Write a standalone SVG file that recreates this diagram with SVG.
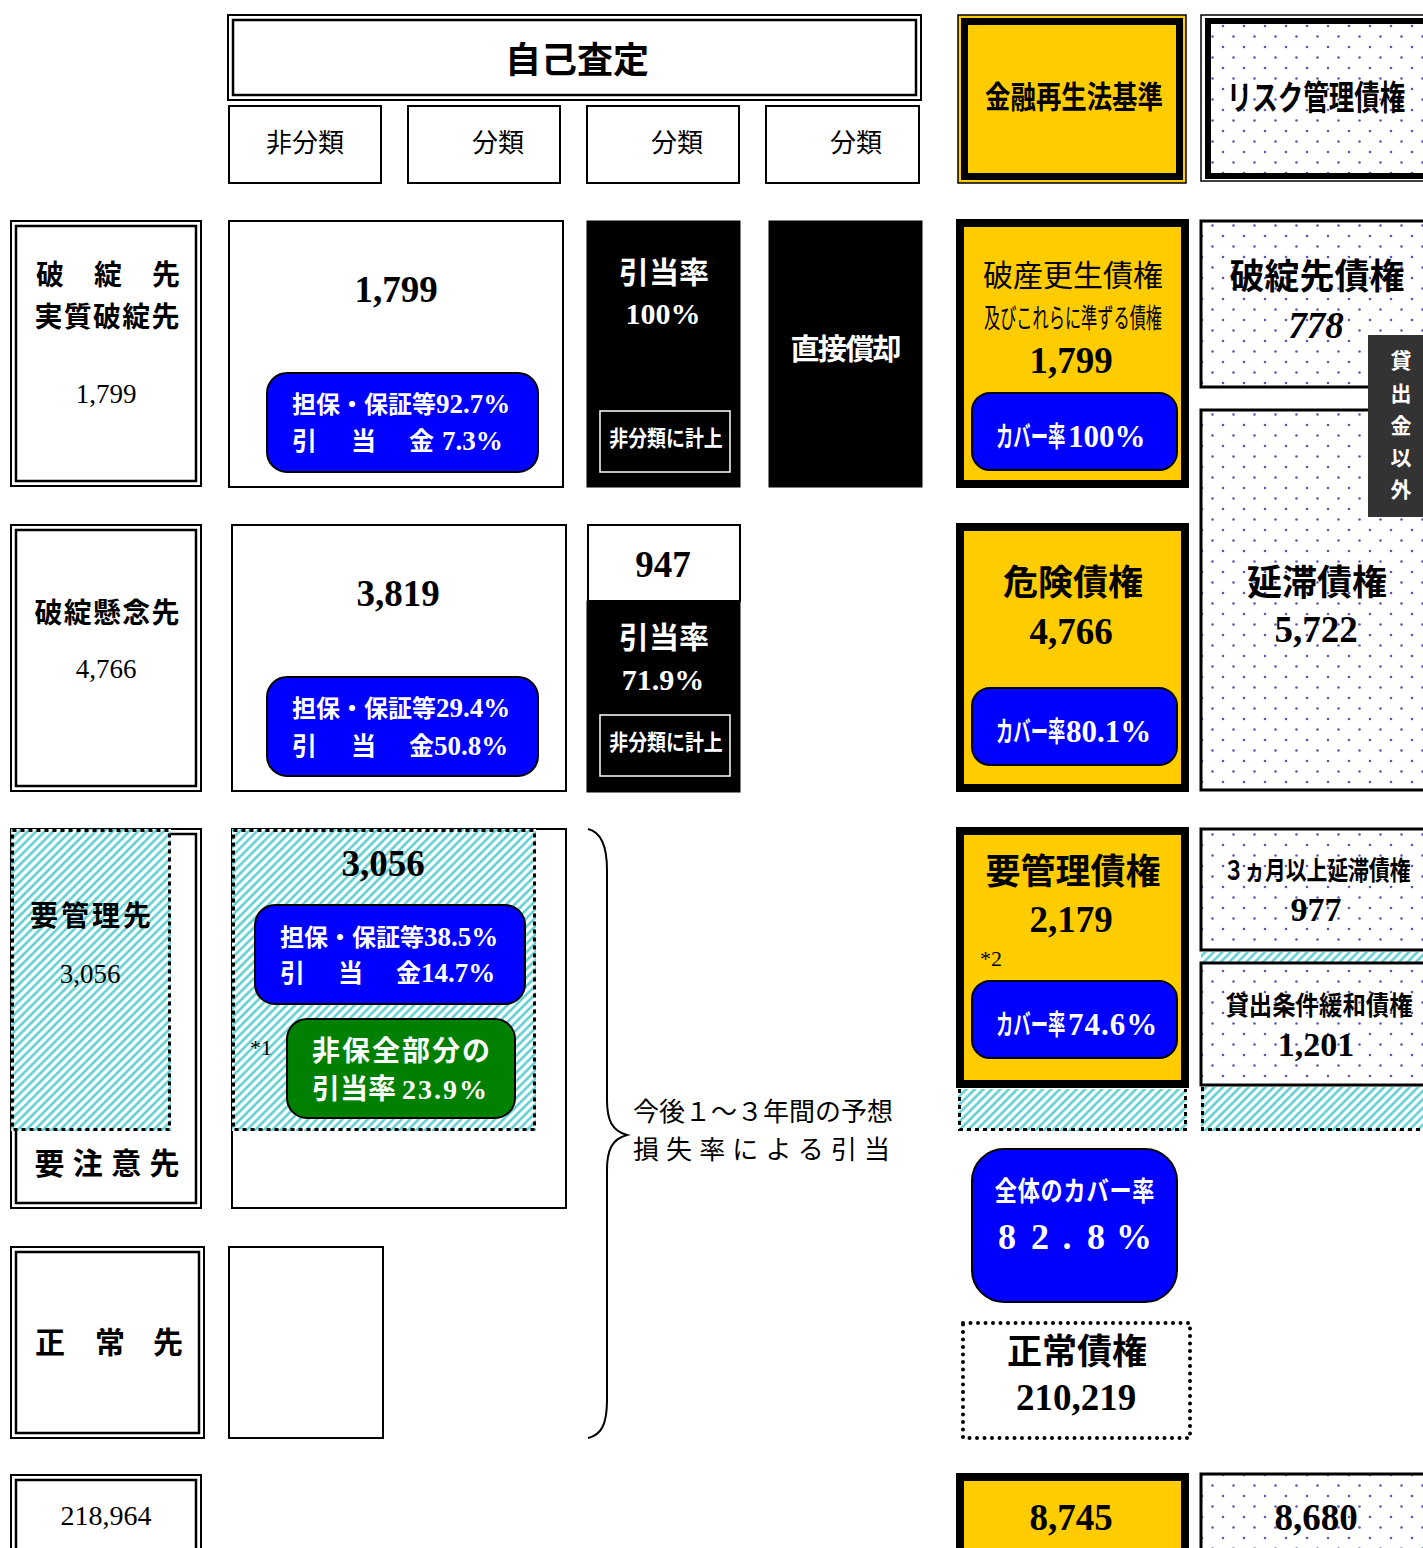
<svg xmlns="http://www.w3.org/2000/svg" width="1423" height="1548" viewBox="0 0 1423 1548">
<defs>
<style>
.jb{font-family:"Noto Sans CJK JP",sans-serif;font-weight:bold}
.jn{font-family:"Noto Sans CJK JP",sans-serif;font-weight:normal}
.sb{font-family:"Liberation Serif",serif;font-weight:bold}
.sr{font-family:"Liberation Serif",serif;font-weight:normal}
.c{text-anchor:middle}
.w{fill:#fff}
.box{fill:#fff;stroke:#000;stroke-width:2}
.blk{fill:#000;stroke:#000;stroke-width:1}
.ylw{fill:#FFCC00;stroke:#000;stroke-width:8}
.blue{fill:#0000FF;stroke:#000;stroke-width:2}
.dotbox{fill:url(#dots);stroke:#000;stroke-width:3}
.hat{fill:url(#hatch);stroke:none}
.dash{fill:none;stroke:#000;stroke-width:3;stroke-dasharray:4 4}
.inw{fill:none;stroke:#fff;stroke-width:1.5}
</style>
<pattern id="hatch" width="6" height="6" patternUnits="userSpaceOnUse" patternTransform="rotate(45)">
<rect width="6" height="6" fill="#fff"/>
<line x1="1.5" y1="0" x2="1.5" y2="6" stroke="#55CCCC" stroke-width="2.4"/>
</pattern>
<pattern id="dots" width="21" height="21" patternUnits="userSpaceOnUse">
<rect width="21" height="21" fill="#fff"/>
<circle cx="5" cy="5" r="1.3" fill="#5A5AB4"/>
<circle cx="15.5" cy="15.5" r="1.3" fill="#5A5AB4"/>
</pattern>
</defs>
<rect width="1423" height="1548" fill="#fff"/>

<!-- Header -->
<g id="hdr-jiko">
<rect x="228" y="15" width="693" height="85" class="box"/>
<rect x="233" y="20" width="683" height="75" fill="none" stroke="#000" stroke-width="2.5"/>
<text x="577" y="73" class="jb c" font-size="36">自己査定</text>
</g>
<g id="hdr-hibunrui"><rect x="229" y="106" width="152" height="77" class="box"/><text x="305" y="152" class="jn c" font-size="26">非分類</text></g>
<g id="hdr-bunrui2"><rect x="408" y="106" width="152" height="77" class="box"/><text x="498" y="152" class="jn c" font-size="26">分類</text></g>
<g id="hdr-bunrui3"><rect x="587" y="106" width="152" height="77" class="box"/><text x="677" y="152" class="jn c" font-size="26">分類</text></g>
<g id="hdr-bunrui4"><rect x="766" y="106" width="153" height="77" class="box"/><text x="856" y="152" class="jn c" font-size="26">分類</text></g>

<g id="hdr-kinyu">
<rect x="958" y="15" width="228" height="168" fill="#FFCC00" stroke="#000" stroke-width="1.5"/>
<rect x="964.5" y="21.5" width="215" height="155" fill="none" stroke="#000" stroke-width="7"/>
<text transform="translate(1074,108) scale(0.82,1)" class="jb c" font-size="31">金融再生法基準</text>
</g>
<g id="hdr-risk">
<rect x="1201" y="15" width="230" height="166" fill="#fff" stroke="#000" stroke-width="1.5"/>
<rect x="1208" y="21" width="225" height="155" fill="url(#dots)" stroke="#000" stroke-width="6"/>
<text transform="translate(1316,110) scale(0.75,1)" class="jb c" font-size="34">リスク管理債権</text>
</g>

<!-- Row 1 -->
<g id="lbl-hatan">
<rect x="11" y="221" width="190" height="265" class="box"/>
<rect x="16" y="226" width="180" height="255" fill="none" stroke="#000" stroke-width="2.5"/>
<text y="285" class="jb c" font-size="28" x="50 108 166">破綻先</text>
<text x="107" y="327" class="jb c" font-size="28" textLength="145" lengthAdjust="spacing">実質破綻先</text>
<text x="106" y="403" class="sr c" font-size="27">1,799</text>
</g>
<g id="hibun-1">
<rect x="229" y="221" width="334" height="266" class="box"/>
<text x="396" y="302" class="sb c" font-size="37">1,799</text>
<rect x="267" y="373" width="271" height="99" rx="20" class="blue"/>
<text x="292" y="413" class="w" font-size="24"><tspan class="jb">担保・保証等</tspan><tspan class="sb" font-size="27">92.7%</tspan></text>
<text y="450" class="w jb" font-size="25"><tspan x="292">引</tspan><tspan x="351">当</tspan><tspan x="409">金</tspan><tspan x="442" class="sb" font-size="27">7.3%</tspan></text>
</g>
<g id="bun3-1">
<rect x="587" y="221" width="153" height="266" class="blk"/>
<text x="664" y="283" class="jb c w" font-size="30">引当率</text>
<text x="663" y="324" class="sb c w" font-size="30">100%</text>
<rect x="600" y="411" width="130" height="61" class="inw"/>
<text transform="translate(666,446) scale(0.86,1)" class="jb c w" font-size="22">非分類に計上</text>
</g>
<g id="bun4-1">
<rect x="769" y="221" width="153" height="266" class="blk"/>
<text x="846" y="360" class="jb c w" font-size="29" textLength="111" lengthAdjust="spacing">直接償却</text>
</g>
<g id="fr-hasan">
<rect x="960" y="223" width="225" height="261" class="ylw"/>
<text x="1073" y="286" class="jn c" font-size="30">破産更生債権</text>
<text transform="translate(1073,328) scale(0.6,1)" class="jn c" font-size="27">及びこれらに準ずる債権</text>
<text x="1071" y="373" class="sb c" font-size="37">1,799</text>
<rect x="972" y="393" width="205" height="77" rx="18" class="blue"/>
<text transform="translate(996,447) scale(0.62,1)" class="jb w" font-size="28">カバー率</text>
<text x="1068" y="447" class="sb w" font-size="31">100%</text>
</g>
<g id="rk-hatan">
<rect x="1201" y="221" width="230" height="166" class="dotbox"/>
<text x="1317" y="289" class="jb c" font-size="35">破綻先債権</text>
<text x="1316" y="338" class="sb c" font-size="37" font-style="italic">778</text>
</g>

<!-- Row 2 -->
<g id="lbl-kenen">
<rect x="11" y="525" width="190" height="266" class="box"/>
<rect x="16" y="530" width="180" height="256" fill="none" stroke="#000" stroke-width="2.5"/>
<text x="107" y="623" class="jb c" font-size="28" textLength="145" lengthAdjust="spacing">破綻懸念先</text>
<text x="106" y="678" class="sr c" font-size="27">4,766</text>
</g>
<g id="hibun-2">
<rect x="232" y="525" width="334" height="266" class="box"/>
<text x="398" y="606" class="sb c" font-size="37">3,819</text>
<rect x="267" y="677" width="271" height="99" rx="20" class="blue"/>
<text x="292" y="717" class="w" font-size="24"><tspan class="jb">担保・保証等</tspan><tspan class="sb" font-size="27">29.4%</tspan></text>
<text y="755" class="w jb" font-size="25"><tspan x="292">引</tspan><tspan x="351">当</tspan><tspan x="409">金</tspan><tspan class="sb" font-size="27">50.8%</tspan></text>
</g>
<g id="bun3-2">
<rect x="587" y="601" width="153" height="191" class="blk"/>
<rect x="588" y="525" width="152" height="76" class="box"/>
<text x="663" y="577" class="sb c" font-size="37">947</text>
<text x="664" y="648" class="jb c w" font-size="30">引当率</text>
<text x="663" y="690" class="sb c w" font-size="30">71.9%</text>
<rect x="600" y="715" width="130" height="61" class="inw"/>
<text transform="translate(666,750) scale(0.86,1)" class="jb c w" font-size="22">非分類に計上</text>
</g>
<g id="fr-kiken">
<rect x="960" y="527" width="225" height="261" class="ylw"/>
<text x="1073" y="595" class="jb c" font-size="35">危険債権</text>
<text x="1071" y="644" class="sb c" font-size="37">4,766</text>
<rect x="972" y="688" width="205" height="77" rx="18" class="blue"/>
<text transform="translate(996,742) scale(0.62,1)" class="jb w" font-size="28">カバー率</text>
<text x="1066" y="742" class="sb w" font-size="31">80.1%</text>
</g>
<g id="rk-entai">
<rect x="1201" y="410" width="230" height="380" class="dotbox"/>
<text x="1317" y="595" class="jb c" font-size="35">延滞債権</text>
<text x="1316" y="642" class="sb c" font-size="37">5,722</text>
</g>
<g id="kashidashi-igai">
<rect x="1368" y="335" width="60" height="182" fill="#333333"/>
<text class="jb c w" font-size="21"><tspan x="1401" y="368">貸</tspan><tspan x="1401" y="401">出</tspan><tspan x="1401" y="433">金</tspan><tspan x="1401" y="465">以</tspan><tspan x="1401" y="497">外</tspan></text>
</g>

<!-- Row 3 -->
<g id="lbl-yochui">
<rect x="11" y="829" width="190" height="379" class="box"/>
<rect x="16" y="834" width="180" height="369" fill="none" stroke="#000" stroke-width="2.5"/>
<rect x="11" y="829" width="160" height="302" class="hat"/>
<rect x="12.5" y="830.5" width="157" height="299" class="dash"/>
<text x="92" y="926" class="jb c" font-size="28" letter-spacing="3">要管理先</text>
<text x="90" y="983" class="sr c" font-size="27">3,056</text>
<text x="107" y="1174" class="jb c" font-size="30" textLength="145" lengthAdjust="spacing">要注意先</text>
</g>
<g id="hibun-3">
<rect x="232" y="829" width="334" height="379" class="box"/>
<rect x="232" y="829" width="304" height="302" class="hat"/>
<rect x="233.5" y="830.5" width="301" height="299" class="dash"/>
<text x="383" y="876" class="sb c" font-size="37">3,056</text>
<rect x="255" y="905" width="270" height="99" rx="20" class="blue"/>
<text x="280" y="946" class="w" font-size="24"><tspan class="jb">担保・保証等</tspan><tspan class="sb" font-size="27">38.5%</tspan></text>
<text y="982" class="w jb" font-size="25"><tspan x="280">引</tspan><tspan x="338">当</tspan><tspan x="396">金</tspan><tspan class="sb" font-size="27">14.7%</tspan></text>
<text x="250" y="1055" class="sr" font-size="22">*1</text>
<rect x="287" y="1019" width="228" height="99" rx="20" fill="#008000" stroke="#000" stroke-width="2"/>
<text x="401" y="1061" class="jb c w" font-size="28" textLength="178" lengthAdjust="spacing">非保全部分の</text>
<text x="312" y="1099" class="w" font-size="28"><tspan class="jb">引当率</tspan><tspan class="sb" dx="6" letter-spacing="2">23.9%</tspan></text>
</g>
<g id="connectors">
<path d="M588,829 C601,832 607,845 607,870 L607,1100 C607,1120 612,1131 627,1135 C612,1139 607,1150 607,1170 L607,1400 C607,1425 601,1435 588,1438" fill="none" stroke="#000" stroke-width="2"/>
</g>
<g id="note-yoso">
<text x="633" y="1121" class="jn" font-size="26">今後１～３年間の予想</text>
<text x="633" y="1159" class="jn" font-size="26" textLength="257" lengthAdjust="spacing">損失率による引当</text>
</g>
<g id="fr-yokanri">
<rect x="960" y="831" width="225" height="253" class="ylw"/>
<text x="1073" y="884" class="jb c" font-size="35">要管理債権</text>
<text x="1071" y="932" class="sb c" font-size="37">2,179</text>
<text x="980" y="966" class="sr" font-size="22">*2</text>
<rect x="972" y="981" width="205" height="77" rx="18" class="blue"/>
<text transform="translate(996,1035) scale(0.62,1)" class="jb w" font-size="28">カバー率</text>
<text x="1068" y="1035" class="sb w" font-size="31" letter-spacing="1">74.6%</text>
</g>
<g id="fr-yokanri-hatch">
<rect x="958" y="1089" width="229" height="42" class="hat"/>
<path d="M959.5,1089 V1129.5 H1185.5 V1089" class="dash"/>
</g>
<g id="rk-3m">
<rect x="1201" y="829" width="230" height="121" class="dotbox"/>
<text transform="translate(1317,880) scale(0.8,1)" class="jb c" font-size="26">３ヵ月以上延滞債権</text>
<text x="1316" y="921" class="sb c" font-size="34">977</text>
</g>
<rect id="rk-strip" x="1201" y="952" width="222" height="10" class="hat"/>
<g id="rk-kanwa">
<rect x="1201" y="963" width="230" height="122" class="dotbox"/>
<text transform="translate(1319,1015) scale(0.9,1)" class="jb c" font-size="26">貸出条件緩和債権</text>
<text x="1316" y="1056" class="sb c" font-size="34">1,201</text>
</g>
<g id="rk-hatch">
<rect x="1201" y="1087" width="222" height="44" class="hat"/>
<path d="M1202.5,1087 V1129.5 H1423" class="dash"/>
</g>
<g id="total-cover">
<rect x="972" y="1149" width="205" height="153" rx="32" class="blue"/>
<text transform="translate(1075,1201) scale(0.82,1)" class="jb c w" font-size="27" letter-spacing="1">全体のカバー率</text>
<text y="1249" class="sb c w" font-size="36" x="1007 1040 1067 1096 1134">82.8%</text>
</g>
<g id="fr-seijo">
<rect x="963" y="1323" width="227" height="115" fill="#fff" stroke="#000" stroke-width="4" stroke-dasharray="0 7.5" stroke-linecap="round"/>
<text x="1077" y="1364" class="jb c" font-size="35">正常債権</text>
<text x="1076" y="1410" class="sb c" font-size="37">210,219</text>
</g>

<!-- Row 4 -->
<g id="lbl-seijo">
<rect x="11" y="1247" width="193" height="191" class="box"/>
<rect x="16" y="1252" width="183" height="181" fill="none" stroke="#000" stroke-width="2.5"/>
<text y="1353" class="jb c" font-size="30" x="50 110 168">正常先</text>
</g>
<g id="hibun-4">
<rect x="229" y="1247" width="154" height="191" class="box"/>
</g>

<!-- Row 5 -->
<g id="lbl-total">
<rect x="11" y="1475" width="190" height="90" class="box"/>
<rect x="16" y="1480" width="180" height="80" fill="none" stroke="#000" stroke-width="2.5"/>
<text x="106" y="1525" class="sr c" font-size="28">218,964</text>
</g>
<g id="fr-total">
<rect x="960" y="1477" width="225" height="90" class="ylw"/>
<text x="1071" y="1530" class="sb c" font-size="37">8,745</text>
</g>
<g id="rk-total">
<rect x="1201" y="1474" width="230" height="90" class="dotbox"/>
<text x="1316" y="1530" class="sb c" font-size="37">8,680</text>
</g>
</svg>
